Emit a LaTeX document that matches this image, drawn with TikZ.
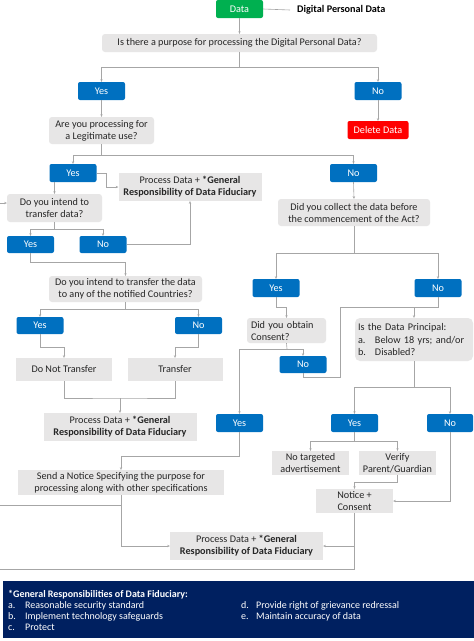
\documentclass[tikz,border=0pt]{standalone}
\usepackage{fontspec}
\setmainfont{Carlito}
\usetikzlibrary{arrows.meta}
\definecolor{bbox}{HTML}{0070C0}
\definecolor{gbox}{HTML}{E7E6E6}
\definecolor{lnc}{HTML}{A6A6A6}
\definecolor{navy}{HTML}{002060}
\definecolor{grn}{HTML}{00B050}
\definecolor{rd}{HTML}{FF0000}
\definecolor{txt}{HTML}{262626}
\begin{document}
\begin{tikzpicture}[x=1pt,y=-1pt,
 box/.style={rectangle, inner sep=0pt, align=center, text=txt, font=\fontsize{10.2}{12}\selectfont},
 bluebox/.style={box, fill=bbox, text=white, rounded corners=2pt, minimum width=47pt, minimum height=18pt},
 qbox/.style={box, fill=gbox, rounded corners=3pt},
 pbox/.style={box, fill=gbox},
 conn/.style={draw=lnc, line width=0.6pt},
 arr/.style={conn, -{Stealth[length=2.6pt,width=2.4pt]}},
 legtxt/.style={anchor=west, inner sep=0pt, text=white, font=\fontsize{10}{11}\selectfont},
]
\useasboundingbox[fill=white] (0,0) rectangle (474,641);

% nodes
\node[box, fill=grn, text=white, rounded corners=2pt, minimum width=47pt, minimum height=18pt] (data) at (239.5,9) {Data};
\node[box, text=black, font=\bfseries\fontsize{10.2}{12}\selectfont, anchor=west] (dpd) at (297,10) {Digital Personal Data};
\node[qbox, minimum width=275pt, minimum height=18pt] (q1) at (239.5,43) {Is there a purpose for processing the Digital Personal Data?};
\node[bluebox] (yes1) at (101.5,91) {Yes};
\node[bluebox] (no1) at (378,91) {No};
\node[box, fill=rd, text=white, rounded corners=2pt, minimum width=61pt, minimum height=18pt] (del) at (378,130) {Delete Data};
\node[qbox, minimum width=105pt, minimum height=27pt] (q2) at (101.5,130.5) {Are you processing for\\a Legitimate use?};
\node[bluebox] (yes2) at (73,173) {Yes};
\node[bluebox] (no2) at (353.5,173) {No};
\node[pbox, minimum width=143pt, minimum height=28pt] (pd1) at (190,187) {Process Data + \textbf{*General}\\\textbf{Responsibility of Data Fiduciary}};
\node[qbox, minimum width=95pt, minimum height=28pt] (q3) at (54.5,208) {Do you intend to\\transfer data?};
\node[bluebox, minimum height=17pt] (yes3) at (30.5,244.5) {Yes};
\node[bluebox, minimum height=17pt] (no3) at (103,244.5) {No};
\node[qbox, minimum width=153pt, minimum height=26pt] (q4) at (125.5,289) {Do you intend to transfer the data\\to any of the notified Countries?};
\node[qbox, minimum width=152pt, minimum height=27pt] (q5) at (354,212.5) {Did you collect the data before\\the commencement of the Act?};
\node[bluebox] (yes4) at (276,288) {Yes};
\node[bluebox] (no4) at (438,288) {No};
\node[bluebox, minimum height=17pt] (yes5) at (40,325.5) {Yes};
\node[bluebox, minimum height=17pt] (no5) at (198.5,325.5) {No};
\node[pbox, minimum width=96pt, minimum height=23pt] (dnt) at (64,369.5) {Do Not Transfer};
\node[pbox, minimum width=95pt, minimum height=23pt] (tr) at (175,369.5) {Transfer};
\node[pbox, minimum width=153pt, minimum height=28pt] (pd2) at (120,427) {Process Data + \textbf{*General}\\\textbf{Responsibility of Data Fiduciary}};
\node[qbox, minimum width=79pt, minimum height=25pt, text width=71pt, inner xsep=4pt, align=left] (q6) at (286.5,330.5) {Did you obtain\\Consent?};
\node[bluebox, minimum height=17pt] (no6) at (303,364.5) {No};
\node[qbox, minimum width=118pt, minimum height=43pt, text width=112pt, inner xsep=3pt, align=left, rounded corners=5pt, font=\fontsize{10.2}{12.5}\selectfont] (q7) at (414,339.5) {Is the Data Principal:\\\makebox[17pt][l]{a.}Below 18 yrs; and/or\\\makebox[17pt][l]{b.}Disabled?};
\node[bluebox] (yes6) at (239.5,423) {Yes};
\node[bluebox] (yes7) at (354.5,423) {Yes};
\node[bluebox, minimum width=46pt] (no7) at (450,423) {No};
\node[pbox, minimum width=77pt, minimum height=24pt] (nta) at (310.5,463) {No targeted\\advertisement};
\node[pbox, minimum width=77pt, minimum height=24pt] (vpg) at (397.5,463) {Verify\\Parent/Guardian};
\node[pbox, minimum width=77pt, minimum height=24pt] (nc) at (354.5,501) {Notice +\\Consent};
\node[pbox, minimum width=206pt, minimum height=25pt] (sn) at (121,482.5) {Send a Notice Specifying the purpose for\\processing along with other specifications};
\node[pbox, minimum width=153pt, minimum height=28pt] (pd3) at (246.5,546) {Process Data + \textbf{*General}\\\textbf{Responsibility of Data Fiduciary}};

% legend
\node[fill=navy, minimum width=471pt, minimum height=57pt, inner sep=0pt, anchor=north west] (leg) at (3,581) {};
\node[legtxt, font=\bfseries\fontsize{10}{11}\selectfont] (lh) at (8,595) {*General Responsibilities of Data Fiduciary:};
\node[legtxt] (la) at (8,605.5) {\makebox[17pt][l]{a.}Reasonable security standard};
\node[legtxt] (lb) at (8,616.5) {\makebox[17pt][l]{b.}Implement technology safeguards};
\node[legtxt] (lc) at (8,627.5) {\makebox[17pt][l]{c.}Protect};
\node[legtxt] (ld) at (241,605.5) {\makebox[15pt][l]{d.}Provide right of grievance redressal};
\node[legtxt] (le) at (241,616.5) {\makebox[15pt][l]{e.}Maintain accuracy of data};

% junction coordinates
\coordinate (j1) at (239.5,67);
\coordinate (j2) at (101.5,155);
\coordinate (j3) at (54.5,229);
\coordinate (j4) at (125.5,309);
\coordinate (j5) at (354,253);
\coordinate (j6) at (287,349);
\coordinate (j7) at (414,307);
\coordinate (j8) at (414,387);
\coordinate (j9) at (354.5,441);
\coordinate (jt) at (120,398);
\coordinate (lin) at (0,203);
\coordinate (lout1) at (0,505);
\coordinate (lout2) at (0,569);

% connectors
\draw[arr] (data.south) -- (q1.north);
\draw[conn] (data.east) -- ([xshift=-7pt]dpd.west);
\draw[conn] (q1.south) -- (j1);
\draw[arr] (j1) -| (yes1.north);
\draw[arr] (j1) -| (no1.north);
\draw[arr] (no1.south) -- (del.north);
\draw[arr] (yes1.south) -- (q2.north);
\draw[conn] (q2.south) -- (j2);
\draw[arr] (j2) -| (yes2.north);
\draw[arr] (j2) -| (no2.north);
\draw[arr] (yes2.east) -- ++(10,0) |- (pd1.west);
\draw[arr] (q3.north |- yes2.south) -- (q3.north);
\draw[arr] (lin) -- (q3.west |- lin);
\draw[conn] (q3.south) -- (j3);
\draw[arr] (j3) -| (yes3.north);
\draw[arr] (j3) -| (no3.north);
\draw[arr] (no3.east) -| (pd1.south);
\draw[arr] (yes3.south) -- ++(0,9.5) -| (q4.north);
\draw[conn] (q4.south) -- (j4);
\draw[arr] (j4) -| (yes5.north);
\draw[arr] (j4) -| (no5.north);
\draw[arr] (yes5.south) -- ++(0,13) -| (dnt.north);
\draw[arr] (no5.south) -- ++(0,13) -| (tr.north);
\draw[conn] (dnt.south) |- (jt) -| (tr.south);
\draw[arr] (jt) -- (pd2.north);
\draw[arr] (no2.south) -- (q5.north);
\draw[conn] (q5.south) -- (j5);
\draw[arr] (j5) -| (yes4.north);
\draw[arr] (j5) -| (no4.north);
\draw[arr] (yes4.south) -- ++(0,10) -| (q6.north);
\draw[conn] (q6.south) -- (j6);
\draw[arr] (j6) -| (no6.north);
\draw[arr] (j6) -| (yes6.north);
\draw[conn] (no6.south) -- ++(0,4.5) -| (340,307) -- (j7);
\draw[conn] (no4.south) |- (j7);
\draw[arr] (j7) -- (q7.north);
\draw[conn] (q7.south) -- (j8);
\draw[arr] (j8) -| (yes7.north);
\draw[arr] (j8) -| (no7.north);
\draw[arr] (yes6.south) -- ++(0,24) -| (sn.north);
\draw[conn] (yes7.south) -- (j9);
\draw[arr] (j9) -| (nta.north);
\draw[arr] (j9) -| (vpg.north);
\draw[arr] (vpg.south) -- ++(0,7) -| (nc.north);
\draw[arr] (no7.south) |- (nc.east);
\draw[arr] (nc.south) |- (pd3.east);
\draw[conn] (nc.south) |- (lout2);
\draw[conn] (sn.south) |- (lout1);
\draw[arr] (sn.south) |- (pd3.west);
\end{tikzpicture}
\end{document}
